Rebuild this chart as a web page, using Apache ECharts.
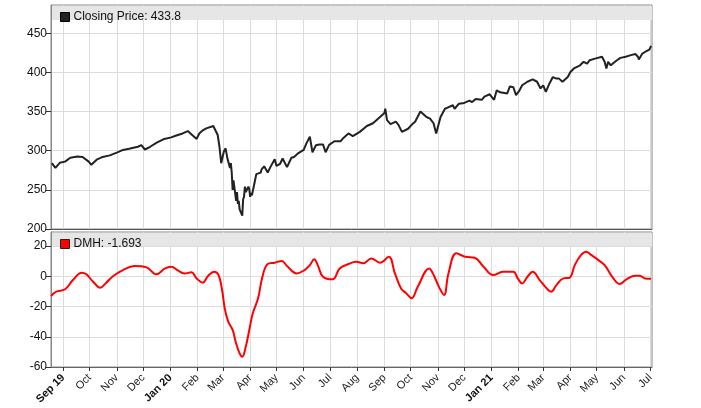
<!DOCTYPE html>
<html>
<head>
<meta charset="utf-8">
<script src="https://cdn.jsdelivr.net/npm/echarts@6/dist/echarts.min.js"></script>
<style>html,body{margin:0;padding:0;background:#fff}#c{width:701px;height:408px}</style>
</head>
<body>
<div id="c"></div>
<script>
// ---- data ----
const axisStart = '2019-08-18';
const axisEnd = '2021-07-03';
const monthNames = ['Jan','Feb','Mar','Apr','May','Jun','Jul','Aug','Sep','Oct','Nov','Dec'];
const boldLabels = ['Sep 19','Jan 20','Jan 21'];
const priceTicks = [200,250,300,350,400,450];
const dmhTicks = [-60,-40,-20,0,20];

const priceDates = ['2019-08-19','2019-08-23','2019-08-28','2019-09-03','2019-09-09','2019-09-17','2019-09-23','2019-09-30','2019-10-03','2019-10-09','2019-10-16','2019-10-24','2019-11-01','2019-11-08','2019-11-15','2019-11-25','2019-11-29','2019-12-03','2019-12-09','2019-12-17','2019-12-24','2020-01-02','2020-01-07','2020-01-15','2020-01-21','2020-01-24','2020-01-31','2020-02-03','2020-02-07','2020-02-11','2020-02-19','2020-02-21','2020-02-24','2020-02-26','2020-02-28','2020-03-02','2020-03-04','2020-03-06','2020-03-09','2020-03-10','2020-03-11','2020-03-12','2020-03-13','2020-03-16','2020-03-17','2020-03-18','2020-03-19','2020-03-20','2020-03-23','2020-03-24','2020-03-25','2020-03-26','2020-03-27','2020-03-30','2020-03-31','2020-04-01','2020-04-02','2020-04-03','2020-04-06','2020-04-08','2020-04-13','2020-04-14','2020-04-17','2020-04-21','2020-04-24','2020-04-29','2020-05-01','2020-05-05','2020-05-08','2020-05-13','2020-05-18','2020-05-21','2020-05-26','2020-06-01','2020-06-04','2020-06-08','2020-06-10','2020-06-11','2020-06-15','2020-06-19','2020-06-23','2020-06-26','2020-06-30','2020-07-06','2020-07-13','2020-07-16','2020-07-22','2020-07-27','2020-08-04','2020-08-12','2020-08-19','2020-08-27','2020-09-01','2020-09-02','2020-09-04','2020-09-08','2020-09-10','2020-09-14','2020-09-17','2020-09-21','2020-09-23','2020-09-28','2020-10-02','2020-10-06','2020-10-12','2020-10-14','2020-10-19','2020-10-23','2020-10-27','2020-10-30','2020-11-04','2020-11-09','2020-11-12','2020-11-18','2020-11-20','2020-11-25','2020-12-01','2020-12-07','2020-12-10','2020-12-14','2020-12-21','2020-12-24','2020-12-30','2021-01-04','2021-01-07','2021-01-11','2021-01-13','2021-01-19','2021-01-22','2021-01-26','2021-01-29','2021-02-02','2021-02-05','2021-02-11','2021-02-17','2021-02-22','2021-02-26','2021-03-01','2021-03-04','2021-03-08','2021-03-12','2021-03-16','2021-03-19','2021-03-23','2021-03-29','2021-04-01','2021-04-05','2021-04-12','2021-04-16','2021-04-20','2021-04-23','2021-04-29','2021-05-07','2021-05-10','2021-05-12','2021-05-14','2021-05-17','2021-05-19','2021-05-24','2021-05-28','2021-06-03','2021-06-09','2021-06-14','2021-06-17','2021-06-18','2021-06-22','2021-06-25','2021-06-30','2021-07-02'];
const priceValues = [284,278,284.5,286,291,292.5,292,286,282,288.5,292,294,297.5,301,302.5,305,307,301.5,305,310.5,314.5,317,319,322,325,322,315,322,326,328.5,331.5,329.5,320,305,284,299,303,290.5,278,284,272,250,262,236,247,232,236,225,217,238,241,254,247,254,251,241,246,243,259,270,272,276,280,272,279,289,280.5,283,290,279,291,292,297,301,309,318,316,298,307,308,308,298,307.5,312,312,316,322,318.5,324,331.5,335,343,348,353.5,339,334,331.5,337,333,324,322,328,333,337,350,348,343,341,335,322,343,353.5,355,358,353.5,360,361,364,362,366,365,369,372,365,377,374.5,377,373,382,381,371,377,383.5,388,391,388,379.5,383.5,375,385.5,394,392,392,388,394,400.5,405,409,413.5,411,415.5,417.5,420,413.5,405,413.5,409,407,415.5,418.5,420,422,423.5,420,416.5,424,426,429,433.8];

const dmhDates = ['2019-08-18','2019-08-24','2019-09-03','2019-09-12','2019-09-22','2019-09-27','2019-10-05','2019-10-13','2019-10-20','2019-10-28','2019-11-08','2019-11-21','2019-12-05','2019-12-16','2019-12-26','2020-01-02','2020-01-10','2020-01-17','2020-01-25','2020-01-31','2020-02-07','2020-02-13','2020-02-20','2020-02-25','2020-02-29','2020-03-03','2020-03-07','2020-03-12','2020-03-16','2020-03-20','2020-03-23','2020-03-27','2020-03-31','2020-04-04','2020-04-10','2020-04-15','2020-04-21','2020-04-29','2020-05-07','2020-05-13','2020-05-24','2020-06-02','2020-06-08','2020-06-13','2020-06-17','2020-06-23','2020-07-04','2020-07-12','2020-07-22','2020-07-31','2020-08-08','2020-08-17','2020-08-27','2020-09-06','2020-09-13','2020-09-20','2020-09-26','2020-10-02','2020-10-09','2020-10-22','2020-10-28','2020-11-03','2020-11-08','2020-11-13','2020-11-22','2020-12-02','2020-12-13','2020-12-23','2021-01-03','2021-01-14','2021-01-26','2021-01-31','2021-02-05','2021-02-11','2021-02-17','2021-02-25','2021-03-05','2021-03-10','2021-03-16','2021-03-24','2021-03-31','2021-04-06','2021-04-13','2021-04-19','2021-04-25','2021-05-03','2021-05-10','2021-05-20','2021-05-27','2021-06-04','2021-06-14','2021-06-19','2021-06-25','2021-07-02'];
const dmhValues = [-13,-10.2,-8.6,-2.5,2.4,1.5,-3.6,-7.6,-4.2,0.2,4.1,6.8,5.9,1.3,5.2,6.3,3.7,1.9,2.6,-1.4,-4.2,0.2,3.0,0.8,-9.1,-21.2,-30,-35.5,-44.4,-51,-53.2,-46.6,-35.5,-24.5,-14.6,-0.3,8.1,9.0,10.1,6.8,1.9,4.1,7.4,11.2,7.4,-0.3,-2.0,5.2,8.1,9.6,8.6,11.8,9.0,12.9,1.9,-8.0,-11.3,-14.6,-6.9,5.2,-0.3,-8.0,-12.4,1.9,15.2,12.9,12.3,6.3,0.8,3.0,3.0,-1.4,-4.7,-0.3,3.0,-2.5,-8.0,-10.2,-5.8,-1.4,-1.0,7.4,14.0,16.2,14.0,10.7,7.4,-1.4,-5.1,-2.0,0.4,0.4,-1.4,-1.693];

// ---- build calendar-day categories ----
const days = [];
(function(){
  const d = new Date(axisStart + 'T00:00:00Z');
  const end = new Date(axisEnd + 'T00:00:00Z');
  while (d <= end) { days.push(d.toISOString().slice(0,10)); d.setUTCDate(d.getUTCDate()+1); }
})();
const isMonthStart = (i, v) => v.slice(8) === '01';
function monthLabel(v) {
  const y = v.slice(2,4), m = +v.slice(5,7);
  let s = monthNames[m-1];
  if (m === 1 || v === '2019-09-01') s += ' ' + y;
  return boldLabels.indexOf(s) >= 0 ? '{b|' + s + '}' : s;
}

const FONT = '"Liberation Sans", Arial, sans-serif';
const L = 51, R = 49;
const grids = [
  {left: L, right: R, top: 5, height: 224},
  {left: L, right: R, top: 232, height: 135}
];

const chart = echarts.init(document.getElementById('c'), null, {renderer: 'canvas'});
const gridStyle = {show: true, borderColor: '#888', borderWidth: 1, backgroundColor: 'transparent'};
chart.setOption({
  animation: false,
  backgroundColor: '#fff',
  grid: grids.map(g => Object.assign({}, g, gridStyle)),
  legend: [
    {left: 55, top: 6, data: ['Closing Price'], icon: 'rect', itemWidth: 9, itemHeight: 9, itemGap: 4,
     textStyle: {fontFamily: FONT, fontSize: 12, color: '#111', padding: [0,0,0,-1]},
     formatter: n => n + ': ' + priceValues[priceValues.length-1].toFixed(1),
     itemStyle: {color: '#222', borderColor: '#000', borderWidth: 1}, z: 20, selectedMode: false},
    {left: 55, top: 233, data: ['DMH'], icon: 'rect', itemWidth: 9, itemHeight: 9, itemGap: 4,
     textStyle: {fontFamily: FONT, fontSize: 12, color: '#111', padding: [0,0,0,-1]},
     formatter: n => n + ': ' + dmhValues[dmhValues.length-1].toFixed(3),
     itemStyle: {color: '#ff0000', borderColor: '#222', borderWidth: 1}, z: 20, selectedMode: false}
  ],
  graphic: [
    {type: 'rect', left: L+1, top: 6, shape: {width: 600, height: 14}, style: {fill: '#e6e6e6'}, z: 5, silent: true},
    {type: 'rect', left: L+1, top: 233, shape: {width: 600, height: 13}, style: {fill: '#e6e6e6'}, z: 5, silent: true}
  ],
  xAxis: [
    {type: 'category', gridIndex: 0, data: days, boundaryGap: false,
     axisLine: {onZero: false, lineStyle: {color: '#555'}}, axisTick: {show: false}, axisLabel: {show: false},
     splitLine: {show: true, interval: isMonthStart, lineStyle: {color: '#dcdcdc'}}},
    {type: 'category', gridIndex: 1, data: days, boundaryGap: false,
     axisLine: {onZero: false, lineStyle: {color: '#666'}},
     axisTick: {show: true, interval: isMonthStart, length: 4, lineStyle: {color: '#333'}},
     axisLabel: {interval: isMonthStart, rotate: 45, fontFamily: FONT, fontSize: 11, color: '#222', margin: 9,
       formatter: monthLabel, rich: {b: {fontWeight: 'bold', fontFamily: FONT, fontSize: 11, color: '#111'}}},
     splitLine: {show: true, interval: isMonthStart, lineStyle: {color: '#dcdcdc'}}}
  ],
  yAxis: [
    {type: 'value', gridIndex: 0, min: 200, max: 486, interval: 50,
     axisLine: {show: true, lineStyle: {color: '#888'}},
     axisTick: {show: true, length: 5, lineStyle: {color: '#333'}, customValues: priceTicks},
     axisLabel: {fontFamily: FONT, fontSize: 12, color: '#111', margin: 4, customValues: priceTicks},
     splitLine: {lineStyle: {color: '#dcdcdc'}}},
    {type: 'value', gridIndex: 1, min: -60, max: 29.3, interval: 20,
     axisLine: {show: true, lineStyle: {color: '#888'}},
     axisTick: {show: true, length: 5, lineStyle: {color: '#333'}, customValues: dmhTicks},
     axisLabel: {fontFamily: FONT, fontSize: 12, color: '#111', margin: 4, customValues: dmhTicks},
     splitLine: {lineStyle: {color: '#dcdcdc'}}}
  ],
  series: [
    {name: 'Closing Price', type: 'line', xAxisIndex: 0, yAxisIndex: 0,
     data: priceDates.map((d, i) => [d, priceValues[i]]),
     showSymbol: false, lineStyle: {color: '#222', width: 2}, itemStyle: {color: '#222'}, z: 3},
    {name: 'DMH', type: 'line', xAxisIndex: 1, yAxisIndex: 1,
     data: dmhDates.map((d, i) => [d, dmhValues[i]]),
     smooth: 0.4, showSymbol: false, lineStyle: {color: '#ff0000', width: 2}, itemStyle: {color: '#ff0000'}, z: 3}
  ]
});
</script>
</body>
</html>
